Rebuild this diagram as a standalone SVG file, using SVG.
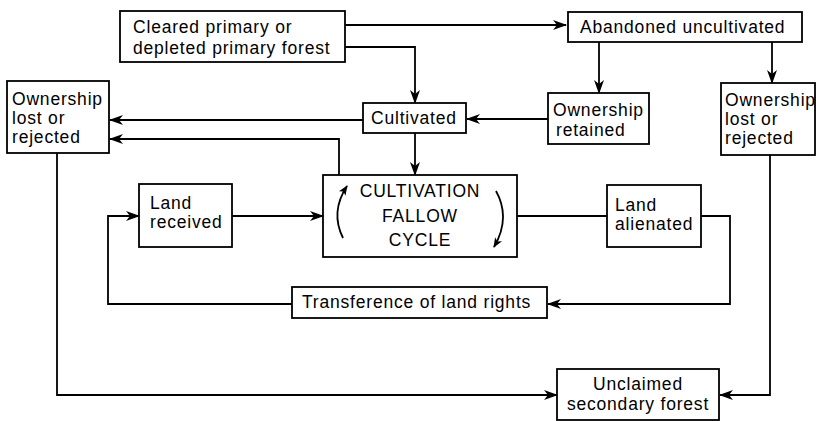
<svg xmlns="http://www.w3.org/2000/svg" width="816" height="421" viewBox="0 0 816 421">
<defs>
<marker id="ah" viewBox="0 0 14 10" refX="13" refY="5" markerWidth="14" markerHeight="10" markerUnits="userSpaceOnUse" orient="auto">
<path d="M0,0 L14,5 L0,10 L4,5 z" fill="#000"/>
</marker>
<marker id="ahs" viewBox="0 0 10 8" refX="9" refY="4" markerWidth="10" markerHeight="8" markerUnits="userSpaceOnUse" orient="auto">
<path d="M0,0 L10,4 L0,8 L2.5,4 z" fill="#000"/>
</marker>
<style>
.box{fill:#fff;stroke:#000;stroke-width:1.8}
.t{font-family:"Liberation Sans",Arial,sans-serif;font-size:17.5px;letter-spacing:0.8px;fill:#000}
.c{text-anchor:middle}
.ln{fill:none;stroke:#000;stroke-width:1.8}
.arr{marker-end:url(#ah)}
</style>
</defs>
<rect width="816" height="421" fill="#fff"/>
<g id="connectors">
<path class="ln arr" d="M345,25 H566"/>
<path class="ln arr" d="M345,47 H415 V103"/>
<path class="ln arr" d="M599,42 V93"/>
<path class="ln arr" d="M772,42 V83"/>
<path class="ln arr" d="M548,119 H467"/>
<path class="ln arr" d="M363,120 H110"/>
<path class="ln arr" d="M339,175 V139 H110"/>
<path class="ln arr" d="M415,133 V175"/>
<path class="ln arr" d="M232,216 H323"/>
<path class="ln" d="M517,216 H607"/>
<path class="ln arr" d="M701,216 H730 V304 H548"/>
<path class="ln arr" d="M292,304 H108 V216 H139"/>
<path class="ln arr" d="M57,153 V395 H557"/>
<path class="ln arr" d="M770,155 V395 H720"/>
</g>
<g id="cleared">
<rect class="box" x="120" y="11" width="225" height="51"/>
<text class="t" x="133" y="33">Cleared primary or</text>
<text class="t" x="133" y="54">depleted primary forest</text>
</g>
<g id="abandoned">
<rect class="box" x="568" y="12" width="234" height="30"/>
<text class="t" x="580" y="33">Abandoned uncultivated</text>
</g>
<g id="cultivated">
<rect class="box" x="363" y="103" width="103" height="30"/>
<text class="t" x="371" y="124">Cultivated</text>
</g>
<g id="ownership-retained">
<rect class="box" x="548" y="93" width="101" height="51"/>
<text class="t" x="553" y="116">Ownership</text>
<text class="t" x="556" y="136">retained</text>
</g>
<g id="ownership-lost-left">
<rect class="box" x="7" y="81" width="102" height="72"/>
<text class="t" x="12" y="105">Ownership</text>
<text class="t" x="12" y="124">lost or</text>
<text class="t" x="12" y="143">rejected</text>
</g>
<g id="ownership-lost-right">
<rect class="box" x="721" y="83" width="94" height="72"/>
<text class="t" x="725" y="106">Ownership</text>
<text class="t" x="725" y="125">lost or</text>
<text class="t" x="725" y="144">rejected</text>
</g>
<g id="cycle">
<rect class="box" x="323" y="175" width="194" height="82"/>
<text class="t c" x="420" y="197">CULTIVATION</text>
<text class="t c" x="420" y="222">FALLOW</text>
<text class="t c" x="420" y="246">CYCLE</text>
<path class="ln" d="M343,238 Q330,212 347,186" marker-end="url(#ahs)"/>
<path class="ln" d="M496,191 Q511,218 494,247" marker-end="url(#ahs)"/>
</g>
<g id="land-received">
<rect class="box" x="139" y="184" width="93" height="63"/>
<text class="t" x="150" y="209">Land</text>
<text class="t" x="150" y="228">received</text>
</g>
<g id="land-alienated">
<rect class="box" x="607" y="185" width="94" height="62"/>
<text class="t" x="615" y="211">Land</text>
<text class="t" x="615" y="230">alienated</text>
</g>
<g id="transference">
<rect class="box" x="292" y="287" width="255" height="31"/>
<text class="t" x="302" y="308">Transference of land rights</text>
</g>
<g id="unclaimed">
<rect class="box" x="557" y="369" width="162" height="51"/>
<text class="t c" x="638" y="390">Unclaimed</text>
<text class="t c" x="638" y="410">secondary forest</text>
</g>
</svg>
